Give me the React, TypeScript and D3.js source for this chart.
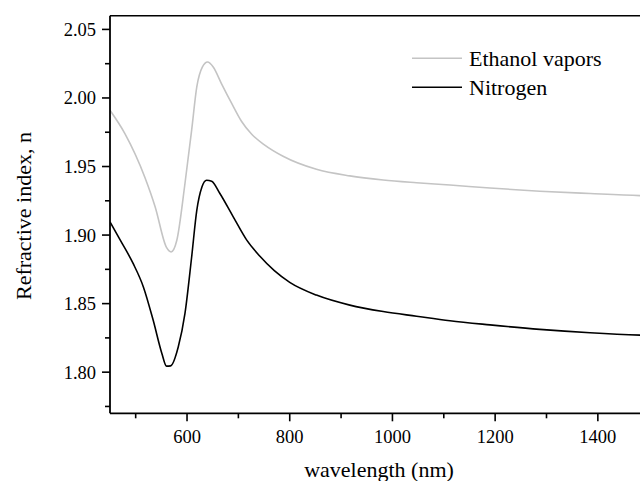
import React from "react";
import * as d3 from "d3";

const ethanolWl = [450, 479, 518, 538, 560, 569, 580, 596, 609, 619, 630, 640, 651, 667, 687, 706, 726, 750, 787, 852, 917, 982, 1047, 1112, 1190, 1287, 1385, 1482, 1500];
const ethanolN = [1.991, 1.974, 1.942, 1.9205, 1.891, 1.8877, 1.896, 1.9376, 1.9765, 2.008, 2.0226, 2.0262, 2.0226, 2.0105, 1.996, 1.983, 1.9735, 1.966, 1.9575, 1.948, 1.9432, 1.9402, 1.9382, 1.9365, 1.9343, 1.932, 1.9303, 1.9288, 1.9286];

const nitrogenWl = [450, 470, 495, 515, 534, 551, 560, 568, 583, 596, 609, 619, 629, 638, 648, 664, 690, 716, 742, 770, 800, 852, 917, 982, 1047, 1112, 1190, 1287, 1385, 1482, 1500];
const nitrogenN = [1.9096, 1.8963, 1.8793, 1.8622, 1.838, 1.8137, 1.8044, 1.8046, 1.8185, 1.8428, 1.884, 1.918, 1.935, 1.94, 1.9393, 1.9303, 1.9133, 1.8965, 1.8845, 1.874, 1.8655, 1.8562, 1.8489, 1.8442, 1.8408, 1.8375, 1.8345, 1.8312, 1.8287, 1.827, 1.8268];

const xMajorTicks = [600, 800, 1000, 1200, 1400];
const xMinorTicks = [500, 700, 900, 1100, 1300, 1500];
const yMajorTicks = [1.8, 1.85, 1.9, 1.95, 2.0, 2.05];
const yMinorTicks = [1.775, 1.825, 1.875, 1.925, 1.975, 2.025];

const seriesNames = ["Ethanol vapors", "Nitrogen"];
const seriesColors = ["#c4c4c4", "#000000"];

export default function App() {
  const W = 640, H = 481;
  const x = d3.scaleLinear().domain([450, 1500]).range([110, 649.2]);
  const y = d3.scaleLinear().domain([1.77, 2.06]).range([413.3, 15.7]);
  const font = "Liberation Serif, Times New Roman, DejaVu Serif, serif";
  const ts = { fontFamily: font };

  const line = d3.line<[number, number]>()
    .x((d) => x(d[0]))
    .y((d) => y(d[1]))
    .curve(d3.curveMonotoneX);

  const eth: [number, number][] = ethanolWl.map((w, i) => [w, ethanolN[i]]);
  const nit: [number, number][] = nitrogenWl.map((w, i) => [w, nitrogenN[i]]);

  const x0 = x.range()[0];
  const x1 = x.range()[1];
  const yb = y.range()[0];
  const yt = y.range()[1];

  return (
    <svg width={W} height={H} style={{ position: "absolute", left: 0, top: 0, background: "#fff", fontFamily: font }}>
      <defs>
        <clipPath id="plot">
          <rect x={x0} y={yt} width={x1 - x0} height={yb - yt} />
        </clipPath>
      </defs>
      <g clipPath="url(#plot)" fill="none" strokeLinejoin="round">
        <path d={line(eth) || ""} stroke={seriesColors[0]} strokeWidth={1.6} />
        <path d={line(nit) || ""} stroke={seriesColors[1]} strokeWidth={1.6} />
      </g>
      <line x1={x0} x2={W} y1={yt} y2={yt} stroke="#000" strokeWidth={1.6} />
      <line x1={x0} x2={x0} y1={yt} y2={yb} stroke="#000" strokeWidth={1.8} />
      <line x1={x0} x2={W} y1={yb} y2={yb} stroke="#000" strokeWidth={1.8} />
      {yMajorTicks.map((t) => (
        <g key={"ym" + t}>
          <line x1={x0 - 8} x2={x0} y1={y(t)} y2={y(t)} stroke="#000" strokeWidth={1.6} />
          <text style={ts} x={96} y={y(t)} dy="0.35em" textAnchor="end" fontSize={18.5}>{t.toFixed(2)}</text>
        </g>
      ))}
      {yMinorTicks.map((t) => (
        <line key={"yn" + t} x1={x0 - 5} x2={x0} y1={y(t)} y2={y(t)} stroke="#000" strokeWidth={1.6} />
      ))}
      {xMajorTicks.map((t) => (
        <g key={"xm" + t}>
          <line x1={x(t)} x2={x(t)} y1={yb} y2={yb + 8} stroke="#000" strokeWidth={1.6} />
          <text style={ts} x={x(t)} y={443} textAnchor="middle" fontSize={18.5}>{t}</text>
        </g>
      ))}
      {xMinorTicks.map((t) => (
        <line key={"xn" + t} x1={x(t)} x2={x(t)} y1={yb} y2={yb + 5} stroke="#000" strokeWidth={1.6} />
      ))}
      <text style={ts} x={379} y={477} textAnchor="middle" fontSize={22}>wavelength (nm)</text>
      <text style={ts} transform="translate(31,216) rotate(-90)" textAnchor="middle" fontSize={22}>Refractive index, n</text>
      {seriesNames.map((name, i) => {
        const ly = i === 0 ? 58.3 : 87.3;
        return (
          <g key={name}>
            <line x1={412} x2={462} y1={ly} y2={ly} stroke={seriesColors[i]} strokeWidth={1.6} />
            <text style={ts} x={469} y={ly + 7.5} fontSize={22}>{name}</text>
          </g>
        );
      })}
    </svg>
  );
}
